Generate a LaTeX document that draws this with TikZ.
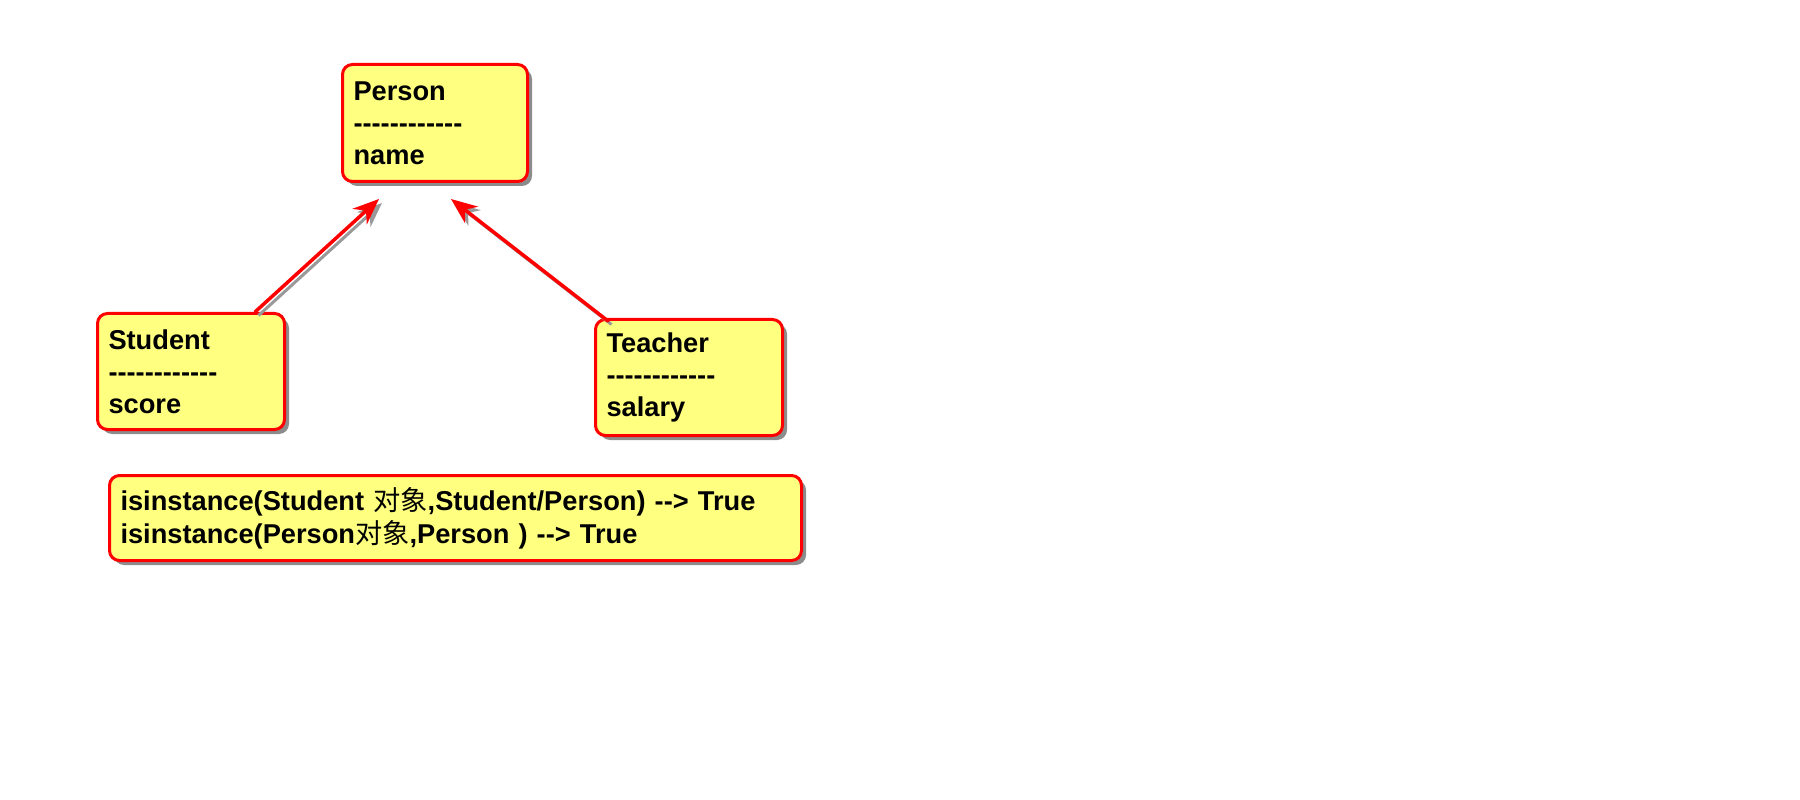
\documentclass[tikz,border=0pt]{standalone}
\usepackage{fontspec}
\setmainfont{Liberation Sans}[Ligatures=TeXOff]
\newfontfamily\cjk{Noto Sans CJK SC}
\usepackage{tikz}
\usetikzlibrary{arrows.meta,shadows,calc}

\definecolor{boxfill}{RGB}{255,255,128}

\begin{document}
\begin{tikzpicture}[line width=0.06cm,
  classbox/.style={draw=red, fill=boxfill, rounded corners=0.2cm, anchor=north west,
    align=left, inner xsep=0.22cm, inner ysep=0cm,
    font=\fontsize{15.5pt}{18.2pt}\selectfont\bfseries,
    drop shadow={shadow xshift=0.09cm, shadow yshift=-0.09cm, fill=black, opacity=0.45}},
  inherit/.style={draw=red, line width=0.07cm, line cap=round,
    -{Stealth[length=0.52cm,width=0.42cm]},
    preaction={draw=black!40, transform canvas={shift={(0.07,-0.07)}}}}]

\useasboundingbox (0,0) rectangle (36,-16);

\node [classbox, text width=3.26cm, minimum height=2.34cm] (person) at (6.82,-1.26)
  {Person\\------------\\name};

\node [classbox, text width=3.30cm, minimum height=2.32cm] (student) at (1.92,-6.24)
  {Student\\------------\\score};

\node [classbox, text width=3.30cm, minimum height=2.32cm] (teacher) at (11.88,-6.36)
  {Teacher\\------------\\salary};

\node [classbox, text width=13.40cm, minimum height=1.70cm,
  font=\fontsize{15.5pt}{18.8pt}\selectfont\bfseries] (check) at (2.16,-9.48)
  {isinstance(Student {\cjk\mdseries 对象},Student/Person) --> True\\
   isinstance(Person{\cjk\mdseries 对象},Person ) --> True};

\coordinate (tipS) at (7.58,-3.98);
\coordinate (tipT) at (9.02,-3.98);

\draw [inherit] ($(student.north west)+(3.18,0)$) -- (tipS);
\draw [inherit] ($(teacher.north west)+(0.28,-0.06)$) -- (tipT);
\end{tikzpicture}
\end{document}
